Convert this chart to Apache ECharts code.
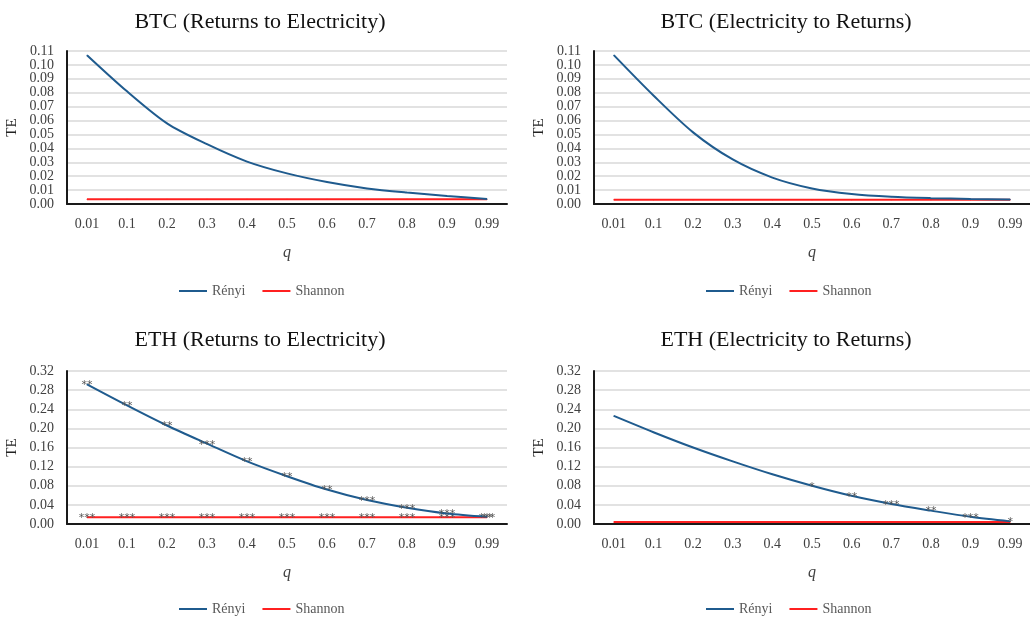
<!DOCTYPE html>
<html>
<head>
<meta charset="utf-8">
<script src="https://cdn.jsdelivr.net/npm/echarts@6/dist/echarts.min.js"></script>
<style>
html,body{margin:0;padding:0;background:#fff;}
#c{width:1030px;height:617px;}
</style>
</head>
<body>
<div id="c"></div>
<script>
// ---- data ----
const qLabels = ['0.01','0.1','0.2','0.3','0.4','0.5','0.6','0.7','0.8','0.9','0.99'];
const titles = ['BTC (Returns to Electricity)','BTC (Electricity to Returns)','ETH (Returns to Electricity)','ETH (Electricity to Returns)'];

const btcReRenyi   = [0.107, 0.081, 0.058, 0.043, 0.0305, 0.022, 0.0158, 0.0112, 0.0082, 0.0058, 0.0036];
const btcReShannon = [0.0034,0.0034,0.0034,0.0034,0.0034,0.0034,0.0034,0.0034,0.0034,0.0034,0.0034];
const btcErRenyi   = [0.107, 0.078, 0.0515, 0.032, 0.019, 0.0112, 0.0072, 0.0052, 0.0042, 0.0036, 0.0032];
const btcErShannon = [0.003,0.003,0.003,0.003,0.003,0.003,0.003,0.003,0.003,0.003,0.003];
const ethReRenyi   = [0.292, 0.248, 0.206, 0.168, 0.131, 0.100, 0.072, 0.050, 0.034, 0.022, 0.015];
const ethReShannon = [0.014,0.014,0.014,0.014,0.014,0.014,0.014,0.014,0.014,0.014,0.014];
const ethErRenyi   = [0.226, 0.192, 0.160, 0.131, 0.104, 0.080, 0.059, 0.042, 0.028, 0.015, 0.0055];
const ethErShannon = [0.004,0.004,0.004,0.004,0.004,0.004,0.004,0.004,0.004,0.004,0.004];

const ethReRenyiSig   = ['**','**','**','***','**','**','**','***','***','***','**'];
const ethReShannonSig = ['***','***','***','***','***','***','***','***','***','***','***'];
const ethErRenyiSig   = ['','','','','','*','**','***','**','***','*'];
const noSig = ['','','','','','','','','','',''];

const btcMax = 0.11, btcStep = 0.01;
const ethMax = 0.32, ethStep = 0.04;

// ---- layout ----
const FONT = '"Liberation Serif", "DejaVu Serif", serif';
const BLUE = '#1f5b8e';
const RED = '#ff2020';
const panels = [
  {left:67,  top:51,  width:440, height:153, max:btcMax, step:btcStep, r:btcReRenyi, s:btcReShannon, rs:noSig, ss:noSig, tx:255, ty:6,   ly:279, lx:257},
  {left:594, top:51,  width:440, height:153, max:btcMax, step:btcStep, r:btcErRenyi, s:btcErShannon, rs:noSig, ss:noSig, tx:781, ty:6,   ly:279, lx:784},
  {left:67,  top:371, width:440, height:153, max:ethMax, step:ethStep, r:ethReRenyi, s:ethReShannon, rs:ethReRenyiSig, ss:ethReShannonSig, tx:255, ty:324, ly:597, lx:257},
  {left:594, top:371, width:440, height:153, max:ethMax, step:ethStep, r:ethErRenyi, s:ethErShannon, rs:ethErRenyiSig, ss:noSig, tx:781, ty:324, ly:597, lx:784}
];

const option = {
  backgroundColor:'#fff',
  animation:false,
  title:[], grid:[], xAxis:[], yAxis:[], legend:[], series:[]
};

panels.forEach((p,i)=>{
  option.title.push({text:titles[i], left:p.tx, top:p.ty, textAlign:'center',
    textStyle:{fontFamily:FONT, fontSize:22, fontWeight:'normal', color:'#111'}});
  option.grid.push({left:p.left, top:p.top, width:p.width, height:p.height, containLabel:false});
  option.xAxis.push({type:'category', gridIndex:i, data:qLabels, boundaryGap:true,
    name:'q', nameLocation:'middle', nameGap:41,
    nameTextStyle:{fontFamily:FONT, fontStyle:'italic', fontSize:16, color:'#404040'},
    axisLine:{show:true, lineStyle:{color:'#1a1a1a', width:2}},
    axisTick:{show:false},
    axisLabel:{fontFamily:FONT, fontSize:14, color:'#404040', margin:13, interval:0},
    splitLine:{show:false}});
  option.yAxis.push({type:'value', gridIndex:i, min:0, max:p.max, interval:p.step,
    name:'TE', nameLocation:'middle', nameGap:47, nameRotate:90,
    nameTextStyle:{fontFamily:FONT, fontSize:15, color:'#222'},
    axisLine:{show:true, lineStyle:{color:'#1a1a1a', width:2}},
    axisTick:{show:false},
    axisLabel:{fontFamily:FONT, fontSize:14, color:'#404040', margin:13,
      formatter:v=>v.toFixed(2)},
    splitLine:{show:true, lineStyle:{color:'#d9d9d9', width:1.5}}});
  option.legend.push({data:['Rényi','Shannon'], left:p.lx - 83, top:p.ly,
    textStyle:{fontFamily:FONT, fontSize:14, color:'#595959'},
    itemWidth:28, itemHeight:10, itemGap:17, icon:'path://M0,4 L28,4 L28,6 L0,6 Z',
    selectedMode:false});
  const mk = (name, vals, sig, color, z) => ({
    name, type:'line', xAxisIndex:i, yAxisIndex:i, data:vals, z,
    smooth:0.3, symbol:'circle', symbolSize:1, showAllSymbol:true,
    lineStyle:{color, width:2}, itemStyle:{color},
    label:{show:true, position:'top', distance:-7,
      formatter:(d)=>sig[d.dataIndex],
      fontFamily:'"DejaVu Sans", sans-serif', fontSize:11, color:'#555'},
    emphasis:{disabled:true}
  });
  option.series.push(mk('Rényi', p.r, p.rs, BLUE, 3));
  option.series.push(mk('Shannon', p.s, p.ss, RED, 2));
});

const chart = echarts.init(document.getElementById('c'), null, {renderer:'canvas'});
chart.setOption(option);
</script>
</body>
</html>
